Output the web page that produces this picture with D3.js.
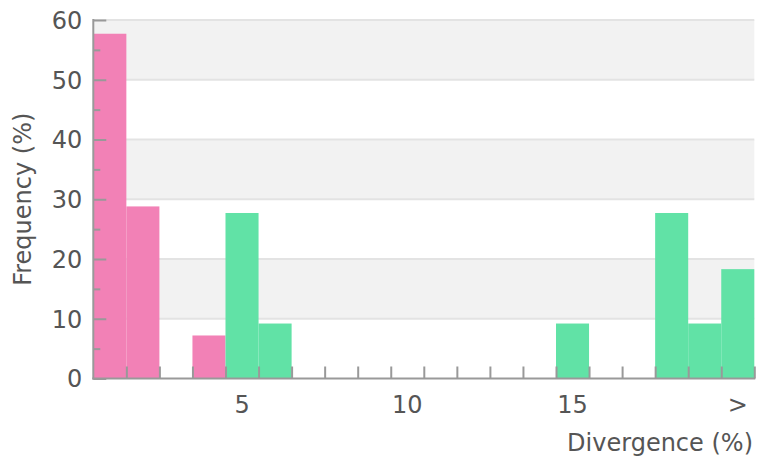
<!DOCTYPE html>
<html>
<head>
<meta charset="utf-8">
<script src="https://cdn.jsdelivr.net/npm/d3@7"></script>
<style>
  html, body { margin: 0; padding: 0; background: #fff; }
  svg { display: block; }
  text { font-family: "DejaVu Sans", sans-serif; fill: #555; }
</style>
</head>
<body>
<svg id="chart" width="758" height="460"></svg>
<script>
// Bins 1..20 (last bin is ">" i.e. above 19%)
const bins = d3.range(1, 21);
const binLabels = {5: "5", 10: "10", 15: "15", 20: ">"};
const pinkValues  = [57.7, 28.8, 0, 7.2, 0, 0, 0, 0, 0, 0, 0, 0, 0, 0, 0, 0, 0, 0, 0, 0];
const greenValues = [0, 0, 0, 0, 27.7, 9.2, 0, 0, 0, 0, 0, 0, 0, 0, 9.2, 0, 0, 27.7, 9.2, 18.3];
const yTicks = [0, 10, 20, 30, 40, 50, 60];
const yMinor = [5, 15, 25, 35, 45, 55];

const svg = d3.select("#chart");
const pLeft = 93.3, pRight = 754.3, pTop = 20, pBottom = 378.5;
const x = d3.scaleLinear().domain([0, 20]).range([pLeft, pRight]);
const y = d3.scaleLinear().domain([0, 60]).range([pBottom, pTop]);

const axisColor = "#999";
const pink = "#f281b6", green = "#61e2a6";
const fs = 24;

// alternating bands
const bands = [[50, 60], [30, 40], [10, 20]];
svg.append("g").selectAll("rect").data(bands).join("rect")
  .attr("x", pLeft).attr("width", pRight - pLeft)
  .attr("y", d => y(d[1])).attr("height", d => y(d[0]) - y(d[1]))
  .attr("fill", "#f2f2f2");

// grid lines
svg.append("g").selectAll("line").data(yTicks.filter(v => v > 0)).join("line")
  .attr("x1", pLeft).attr("x2", pRight)
  .attr("y1", d => y(d)).attr("y2", d => y(d))
  .attr("stroke", "#e3e3e3").attr("stroke-width", 2);

// bars
function drawBars(vals, color) {
  svg.append("g").selectAll("rect").data(bins.filter((b, i) => vals[i] > 0)).join("rect")
    .attr("x", b => x(b - 1)).attr("width", b => x(b) - x(b - 1))
    .attr("y", b => y(vals[b - 1])).attr("height", b => y(0) - y(vals[b - 1]))
    .attr("fill", color);
}
drawBars(pinkValues, pink);
drawBars(greenValues, green);

// Y axis (ticks inward)
const yAxis = d3.axisLeft(y).tickValues(yTicks).tickSize(-13).tickPadding(11).tickFormat(d3.format("d"));
const gy = svg.append("g").attr("transform", `translate(${pLeft},0)`).call(yAxis);
gy.select(".domain").remove();
gy.selectAll(".tick line").attr("stroke", axisColor).attr("stroke-width", 2);
gy.selectAll(".tick text").attr("font-size", fs).attr("fill", "#555")
  .attr("font-family", "DejaVu Sans, sans-serif").attr("dy", "0.35em");
const yAxisMinor = d3.axisLeft(y).tickValues(yMinor).tickSize(-7).tickFormat("");
const gym = svg.append("g").attr("transform", `translate(${pLeft},0)`).call(yAxisMinor);
gym.select(".domain").remove();
gym.selectAll(".tick line").attr("stroke", axisColor).attr("stroke-width", 2);
svg.append("line").attr("x1", pLeft).attr("x2", pLeft).attr("y1", y(60) - 1).attr("y2", y(0) + 1)
  .attr("stroke", axisColor).attr("stroke-width", 2);

// X axis (ticks at bin edges, inward)
const xAxis = d3.axisBottom(x).tickValues(d3.range(1, 21)).tickSize(-12).tickFormat("");
const gx = svg.append("g").attr("transform", `translate(0,${pBottom})`).call(xAxis);
gx.select(".domain").remove();
gx.selectAll(".tick line").attr("stroke", axisColor).attr("stroke-width", 2);
svg.append("line").attr("x1", pLeft - 1).attr("x2", pRight + 1).attr("y1", pBottom).attr("y2", pBottom)
  .attr("stroke", axisColor).attr("stroke-width", 2);

// x labels centered in bins
svg.append("g").selectAll("text").data(bins.filter(b => binLabels[b])).join("text")
  .attr("x", b => (x(b - 1) + x(b)) / 2).attr("y", 413)
  .attr("text-anchor", "middle").attr("font-size", fs)
  .text(b => binLabels[b]);

// axis titles
svg.append("text").attr("x", 753).attr("y", 451).attr("text-anchor", "end")
  .attr("font-size", fs).text("Divergence (%)");
svg.append("text").attr("transform", `translate(31,${(pTop + pBottom) / 2}) rotate(-90)`)
  .attr("text-anchor", "middle").attr("font-size", fs).text("Frequency (%)");
</script>
</body>
</html>
